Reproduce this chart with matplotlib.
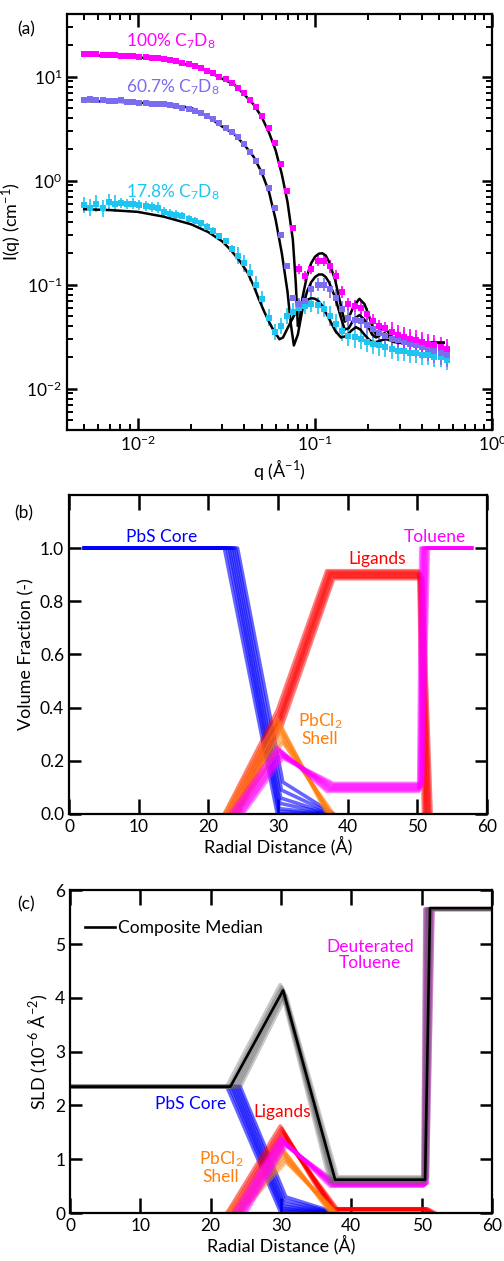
import numpy as np
import matplotlib.pyplot as plt

plt.rcParams['font.family'] = ['Lato', 'DejaVu Sans']
plt.rcParams['mathtext.fontset'] = 'custom'
plt.rcParams['mathtext.rm'] = 'Lato'
plt.rcParams['mathtext.it'] = 'Lato:italic'
plt.rcParams['mathtext.bf'] = 'Lato:bold'

# ---------------- (a) SANS data + fits ----------------
q_data = [0.00500, 0.00542, 0.00586, 0.00635, 0.00688, 0.00745, 0.00807, 0.00874, 0.00946, 0.0102,
          0.0111, 0.0120, 0.0130, 0.0141, 0.0153, 0.0165, 0.0179, 0.0194, 0.0210, 0.0227,
          0.0246, 0.0267, 0.0289, 0.0313, 0.0339, 0.0367, 0.0397, 0.0430, 0.0466, 0.0505,
          0.0547, 0.0592, 0.0641, 0.0694, 0.0752, 0.0814, 0.0882, 0.0955, 0.1034, 0.112,
          0.121, 0.131, 0.142, 0.154, 0.167, 0.181, 0.196, 0.212, 0.230, 0.249,
          0.270, 0.292, 0.316, 0.342, 0.371, 0.401, 0.435, 0.471, 0.510, 0.552]

I_100 = [16.5, 16.4, 16.3, 16.2, 16.1, 16.0, 15.9, 15.8, 15.6, 15.5,
         15.3, 15.1, 14.9, 14.6, 14.3, 14.0, 13.6, 13.1, 12.6, 12.0,
         11.4, 10.7, 10.0, 9.4, 8.6, 7.7, 6.9, 6.0, 5.1, 4.2,
         3.2, 2.3, 1.45, 0.80, 0.35, 0.14, 0.12, 0.14, 0.17, 0.17,
         0.15, 0.12, 0.085, 0.065, 0.062, 0.060, 0.052, 0.045, 0.040, 0.038,
         0.035, 0.033, 0.031, 0.030, 0.029, 0.028, 0.027, 0.026, 0.025, 0.024]

I_607 = [6.0, 6.1, 5.9, 5.9, 5.8, 5.8, 5.9, 5.7, 5.7, 5.6,
         5.6, 5.5, 5.5, 5.4, 5.3, 5.2, 5.0, 4.9, 4.7, 4.5,
         4.2, 3.9, 3.6, 3.2, 2.95, 2.6, 2.25, 1.9, 1.55, 1.2,
         0.85, 0.55, 0.30, 0.15, 0.075, 0.065, 0.070, 0.090, 0.10, 0.10,
         0.090, 0.075, 0.058, 0.048, 0.046, 0.045, 0.041, 0.037, 0.034, 0.032,
         0.030, 0.029, 0.028, 0.027, 0.026, 0.025, 0.024, 0.023, 0.022, 0.021]

I_178 = [0.58, 0.55, 0.60, 0.54, 0.62, 0.60, 0.61, 0.59, 0.60, 0.58,
         0.57, 0.56, 0.55, 0.50, 0.48, 0.47, 0.46, 0.43, 0.41, 0.39,
         0.36, 0.33, 0.29, 0.26, 0.22, 0.19, 0.16, 0.13, 0.10, 0.072,
         0.048, 0.035, 0.040, 0.050, 0.055, 0.060, 0.062, 0.065, 0.063, 0.058,
         0.050, 0.042, 0.036, 0.032, 0.031, 0.030, 0.028, 0.027, 0.026, 0.025,
         0.024, 0.023, 0.023, 0.022, 0.022, 0.021, 0.021, 0.020, 0.020, 0.019]

relerr_100 = [0.04] * 25 + [0.05] * 10 + [0.12] * 5 + [0.15] * 10 + [0.25] * 10
relerr_607 = [0.06] * 25 + [0.06] * 10 + [0.15] * 5 + [0.20] * 10 + [0.30] * 10
relerr_178 = [0.20] * 6 + [0.12] * 10 + [0.08] * 9 + [0.20] * 10 + [0.20] * 5 + [0.25] * 20

q_fit100 = [0.005, 0.007, 0.01, 0.014, 0.02, 0.025, 0.03, 0.035, 0.04, 0.045, 0.05, 0.055,
            0.06, 0.065, 0.07, 0.075, 0.078, 0.080, 0.082, 0.085, 0.09, 0.095, 0.10, 0.105,
            0.11, 0.115, 0.12, 0.13, 0.14, 0.147, 0.155, 0.165, 0.178, 0.19, 0.20, 0.21,
            0.221, 0.235, 0.246, 0.265, 0.28, 0.30, 0.35, 0.45, 0.53]
fit_100 = [16.0, 15.8, 15.3, 14.4, 12.8, 11.2, 9.5, 8.4, 6.7, 5.4, 4.1, 2.9,
           1.95, 1.15, 0.62, 0.27, 0.10, 0.040, 0.045, 0.075, 0.12, 0.16, 0.185, 0.198,
           0.200, 0.190, 0.165, 0.11, 0.062, 0.044, 0.048, 0.062, 0.073, 0.065, 0.052, 0.040,
           0.033, 0.036, 0.039, 0.033, 0.029, 0.0282, 0.0278, 0.0276, 0.0276]

q_fit607 = [0.005, 0.007, 0.01, 0.014, 0.02, 0.025, 0.03, 0.035, 0.04, 0.045, 0.05, 0.055,
            0.06, 0.065, 0.07, 0.073, 0.076, 0.080, 0.085, 0.09, 0.095, 0.10, 0.105,
            0.11, 0.115, 0.12, 0.13, 0.14, 0.147, 0.155, 0.165, 0.178, 0.19, 0.20, 0.21,
            0.221, 0.235, 0.246, 0.265, 0.28, 0.30, 0.35, 0.45, 0.53]
fit_607 = [5.8, 5.75, 5.6, 5.45, 5.0, 4.1, 3.3, 2.8, 2.2, 1.7, 1.2, 0.78,
           0.42, 0.20, 0.085, 0.042, 0.026, 0.033, 0.058, 0.085, 0.105, 0.118, 0.125,
           0.125, 0.118, 0.105, 0.075, 0.048, 0.037, 0.038, 0.046, 0.051, 0.046, 0.039, 0.033,
           0.031, 0.033, 0.034, 0.031, 0.029, 0.0280, 0.0277, 0.0276, 0.0276]

q_fit178 = [0.005, 0.007, 0.01, 0.014, 0.02, 0.025, 0.03, 0.0335, 0.0375, 0.0417, 0.045, 0.048,
            0.0517, 0.055, 0.058, 0.06, 0.063, 0.066, 0.07, 0.075, 0.08, 0.085, 0.09, 0.095,
            0.10, 0.105, 0.11, 0.12, 0.13, 0.14, 0.15, 0.16, 0.17, 0.18, 0.19, 0.20, 0.21,
            0.22, 0.235, 0.25, 0.265, 0.28, 0.30, 0.35, 0.45, 0.53]
fit_178 = [0.53, 0.52, 0.50, 0.45, 0.38, 0.32, 0.26, 0.215, 0.17, 0.13, 0.098, 0.074,
           0.055, 0.044, 0.037, 0.034, 0.0298, 0.031, 0.038, 0.048, 0.058, 0.066, 0.071, 0.074,
           0.073, 0.069, 0.062, 0.047, 0.036, 0.031, 0.032, 0.036, 0.039, 0.037, 0.033, 0.030, 0.028,
           0.028, 0.029, 0.030, 0.029, 0.028, 0.0275, 0.0275, 0.0275, 0.0275]

# ---------------- (b)/(c) profile ensembles ----------------
r_core_start = 2.2
r_solv_end = 57.8
R1 = [22.3, 22.7, 23.0, 23.3, 23.6, 23.9, 24.2]
R2 = [29.9, 30.1, 30.2, 30.3, 30.4, 30.5, 30.7]
R3 = [37.0, 37.2, 37.4, 37.5, 37.6, 37.8, 38.0]
R4 = [50.2, 50.3, 50.4, 50.5, 50.6, 50.7, 50.8]
R5 = [50.9, 51.1, 51.3, 51.4, 51.6, 51.8, 52.0]

core_R2 = [0.00, 0.01, 0.02, 0.04, 0.06, 0.09, 0.12]
shell_R2 = [0.36, 0.34, 0.33, 0.31, 0.30, 0.28, 0.27]
lig_R2 = [0.39, 0.38, 0.37, 0.36, 0.36, 0.35, 0.34]
solv_R2 = [0.25, 0.24, 0.24, 0.23, 0.22, 0.22, 0.21]
lig_plat = [0.915, 0.91, 0.905, 0.90, 0.895, 0.89, 0.885]
solv_plat = [0.085, 0.09, 0.095, 0.10, 0.105, 0.11, 0.115]

sld_core = 2.35
sld_solv = 5.65
core_sld_R2 = [0.03, 0.06, 0.09, 0.13, 0.18, 0.24, 0.30]
shell_sld_R2 = [1.25, 1.20, 1.15, 1.10, 1.05, 1.00, 0.95]
lig_sld_R2 = [1.62, 1.58, 1.54, 1.50, 1.46, 1.41, 1.36]
solv_sld_R2 = [1.40, 1.38, 1.35, 1.33, 1.30, 1.28, 1.25]
lig_sld_plat = [0.06, 0.065, 0.07, 0.07, 0.075, 0.08, 0.08]
solv_sld_plat = [0.50, 0.51, 0.52, 0.53, 0.54, 0.55, 0.56]
comp_sld_R2 = [4.24, 4.20, 4.17, 4.14, 4.11, 4.08, 4.04]
comp_sld_plat = [0.57, 0.59, 0.61, 0.62, 0.63, 0.65, 0.67]

median_r = [0, 22.8, 30.3, 37.7, 50.5, 51.2, 60]
median_sld = [2.35, 2.35, 4.14, 0.62, 0.62, 5.67, 5.67]

MAG = '#ff00ff'
PUR = '#7b6cf0'
CYA = '#1ec5f2'
BLU = '#0000ff'
RED = '#ff0000'
ORA = '#ff7f0e'

fig = plt.figure(figsize=(5.04, 12.61), dpi=100)


def style_ax(ax, xlen=11, ylen=8.5):
    for s in ax.spines.values():
        s.set_linewidth(1.6)
    ax.tick_params(which='major', direction='in', top=True, right=True,
                   width=1.8, labelsize=12.5)
    ax.tick_params(axis='x', which='major', length=xlen)
    ax.tick_params(axis='y', which='major', length=ylen)


# ---- (a)
ax = fig.add_axes([0.133, 0.659, 0.844, 0.330])
for I, err, c in [(I_178, relerr_178, CYA), (I_607, relerr_607, PUR), (I_100, relerr_100, MAG)]:
    I = np.array(I)
    e = np.array(err)
    ax.errorbar(q_data, I, yerr=[I * e / (1 + e), I * e], fmt='s', ms=4.0, mew=0,
                color=c, ecolor=c, elinewidth=1.2, capsize=2.0, capthick=1.2)
for qf, f in [(q_fit100, fit_100), (q_fit607, fit_607), (q_fit178, fit_178)]:
    ax.plot(qf, f, color='k', lw=1.8)
ax.set_xscale('log')
ax.set_yscale('log')
ax.set_xlim(0.004, 1.0)
ax.set_ylim(0.004, 40)
style_ax(ax, xlen=9, ylen=7)
ax.tick_params(which='minor', direction='in', top=True, right=True, length=4.5, width=1.4)
ax.set_xlabel('q (Å$^{-1}$)', fontsize=13, labelpad=2)
ax.set_ylabel('I(q) (cm$^{-1}$)', fontsize=13, labelpad=2)
ax.text(0.0086, 17.5, '100% C$_7$D$_8$', color=MAG, fontsize=12.5, ha='left', va='bottom')
ax.text(0.0086, 6.3, '60.7% C$_7$D$_8$', color=PUR, fontsize=12.5, ha='left', va='bottom')
ax.text(0.0086, 0.62, '17.8% C$_7$D$_8$', color=CYA, fontsize=12.5, ha='left', va='bottom')
fig.text(0.035, 0.977, '(a)', fontsize=12.5, ha='left', va='center')

# ---- (b)
ax = fig.add_axes([0.137, 0.3545, 0.829, 0.253])
for k in range(len(R1)):
    ax.plot([r_core_start, R1[k], R2[k], R3[k]], [1, 1, core_R2[k], 0],
            color=BLU, lw=2.6, alpha=0.6)
for k in range(len(R1)):
    ax.plot([R1[k], R2[k], R3[k], R4[k], R5[k]], [0, lig_R2[k], lig_plat[k], lig_plat[k], 0],
            color=RED, lw=2.6, alpha=0.5)
for k in range(len(R1)):
    ax.plot([R1[k], R2[k], R3[k]], [0, shell_R2[k], 0], color=ORA, lw=2.6, alpha=0.5)
for k in range(len(R1)):
    ax.plot([R1[k] + 0.8, R2[k], R3[k], R4[k], R5[k] - 0.4, r_solv_end],
            [0, solv_R2[k], solv_plat[k], solv_plat[k], 1, 1],
            color=MAG, lw=2.6, alpha=0.5)
ax.set_xlim(0, 60)
ax.set_ylim(0, 1.2)
ax.set_xticks([0, 10, 20, 30, 40, 50, 60])
ax.set_yticks([0, 0.2, 0.4, 0.6, 0.8, 1.0])
ax.set_yticklabels(['0.0', '0.2', '0.4', '0.6', '0.8', '1.0'])
style_ax(ax)
ax.set_xlabel('Radial Distance (Å)', fontsize=13, labelpad=1)
ax.set_ylabel('Volume Fraction (-)', fontsize=13, labelpad=4)
ax.text(13.3, 1.01, 'PbS Core', color=BLU, fontsize=12.5, ha='center', va='bottom')
ax.text(44.3, 0.93, 'Ligands', color=RED, fontsize=12.5, ha='center', va='bottom')
ax.text(52.6, 1.01, 'Toluene', color=MAG, fontsize=12.5, ha='center', va='bottom')
ax.text(36.0, 0.32, 'PbCl$_2$\nShell', color=ORA, fontsize=12.5, ha='center', va='center',
        linespacing=1.0)
fig.text(0.028, 0.593, '(b)', fontsize=12.5, ha='left', va='center')

# ---- (c)
ax = fig.add_axes([0.139, 0.038, 0.837, 0.256])
for k in range(len(R1)):
    ax.plot([R1[k], R2[k], R3[k]], [sld_core, core_sld_R2[k], 0],
            color=BLU, lw=2.6, alpha=0.6)
for k in range(len(R1)):
    ax.plot([R1[k], R2[k], R3[k], R4[k], R5[k]],
            [0, lig_sld_R2[k], lig_sld_plat[k], lig_sld_plat[k], 0],
            color=RED, lw=2.6, alpha=0.5)
for k in range(len(R1)):
    ax.plot([R1[k], R2[k], R3[k]], [0, shell_sld_R2[k], 0], color=ORA, lw=2.6, alpha=0.5)
for k in range(len(R1)):
    ax.plot([R1[k] + 0.8, R2[k], R3[k], R4[k], R5[k] - 0.4, 60],
            [0, solv_sld_R2[k], solv_sld_plat[k], solv_sld_plat[k], sld_solv, sld_solv],
            color=MAG, lw=2.6, alpha=0.5)
for k in range(len(R1)):
    ax.plot([0, R1[k], R2[k], R3[k], R4[k], R5[k] - 0.4, 60],
            [sld_core, sld_core, comp_sld_R2[k], comp_sld_plat[k], comp_sld_plat[k],
             sld_solv, sld_solv],
            color='0.4', lw=3.0, alpha=0.35)
ax.plot(median_r, median_sld, color='k', lw=1.9, label='Composite Median')
ax.set_xlim(0, 60)
ax.set_ylim(0, 6)
ax.set_xticks([0, 10, 20, 30, 40, 50, 60])
ax.set_yticks([0, 1, 2, 3, 4, 5, 6])
style_ax(ax)
ax.set_xlabel('Radial Distance (Å)', fontsize=13, labelpad=1)
ax.set_ylabel('SLD (10$^{-6}$ Å$^{-2}$)', fontsize=13, labelpad=4)
ax.legend(loc='upper left', bbox_to_anchor=(0.02, 0.93), frameon=False, fontsize=12.5,
          handlelength=1.7, handletextpad=0.2, borderaxespad=0)
ax.text(17.1, 2.03, 'PbS Core', color=BLU, fontsize=12.5, ha='center', va='center')
ax.text(30.2, 1.87, 'Ligands', color=RED, fontsize=12.5, ha='center', va='center')
ax.text(21.5, 0.86, 'PbCl$_2$\nShell', color=ORA, fontsize=12.5, ha='center', va='center',
        linespacing=1.0)
ax.text(42.7, 4.79, 'Deuterated\nToluene', color=MAG, fontsize=12.5, ha='center', va='center',
        linespacing=1.0)
fig.text(0.035, 0.283, '(c)', fontsize=12.5, ha='left', va='center')

fig.savefig('out.png', dpi=100)
